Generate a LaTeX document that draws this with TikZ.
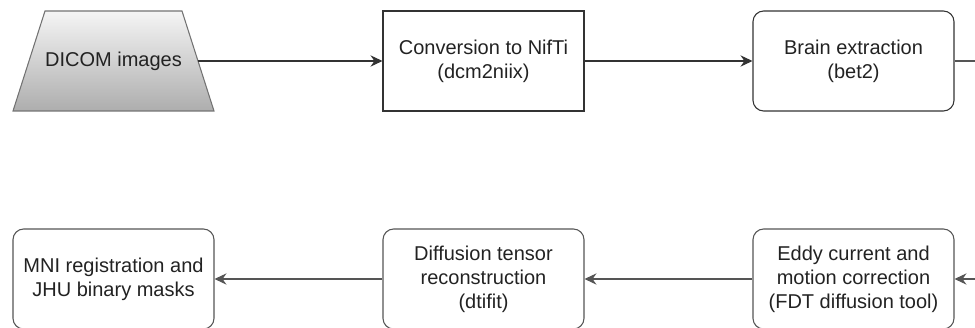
\documentclass[tikz,border=0pt]{standalone}
\usepackage{fontspec}
\setmainfont{Liberation Sans}
\usetikzlibrary{arrows.meta}
\definecolor{edge}{HTML}{333333}
\definecolor{edgelight}{HTML}{555555}
\definecolor{txt}{HTML}{222222}
\tikzset{
  label text/.style={align=center, text=txt,
    font=\fontsize{15pt}{18pt}\selectfont, inner sep=0pt},
  stagebox/.style={label text, draw=edge, line width=0.8pt,
    minimum width=150.75pt, minimum height=75pt},
  roundbox/.style={stagebox, rounded corners=8pt},
  lowbox/.style={roundbox, draw=edgelight},
  sourcefill/.style={draw=black!55, line width=0.8pt,
    top color=black!4, bottom color=black!32},
  flow/.style={draw=edge, line width=0.85pt,
    -{Stealth[length=9pt,width=8.5pt,inset=3pt]}},
  lowflow/.style={flow, draw=edgelight}
}
\begin{document}
\begin{tikzpicture}[x=0.75pt,y=-0.75pt]
  \useasboundingbox (0,0) rectangle (975,328);
  \clip (0,0) rectangle (975,328);
  % data source: trapezoid with a vertical grey gradient
  \path[sourcefill] (45,11) -- (182,11) -- (214,111) -- (13,111) -- cycle;
  \node[label text] (dicom) at (113.5,61) {DICOM images};
  \coordinate (dicomout) at (198,61);
  % upper row
  \node[stagebox] (conv)  at (483.5,61) {Conversion to NifTi\\(dcm2niix)};
  \node[roundbox] (bet)   at (853.5,61) {Brain extraction\\(bet2)};
  % lower row
  \node[lowbox] (mni)   at (113.5,279) {MNI registration and\\JHU binary masks};
  \node[lowbox] (dti)   at (483.5,279) {Diffusion tensor\\reconstruction\\(dtifit)};
  \node[lowbox] (eddy)  at (853.5,279) {Eddy current and\\motion correction\\(FDT diffusion tool)};
  % connectors
  \draw[flow] (dicomout) -- (conv.west);
  \draw[flow] (conv.east) -- (bet.west);
  \draw[lowflow] (bet.east) -- ++(40,0) |- (eddy.east);
  \draw[lowflow] (eddy.west) -- (dti.east);
  \draw[lowflow] (dti.west) -- (mni.east);
\end{tikzpicture}
\end{document}
